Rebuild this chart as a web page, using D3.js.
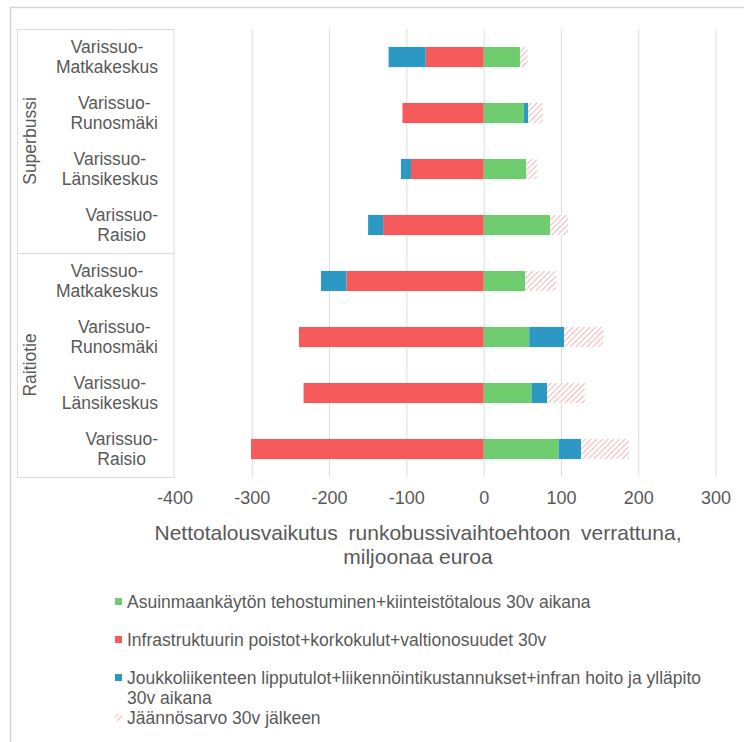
<!DOCTYPE html>
<html lang="fi">
<head>
<meta charset="utf-8">
<script src="https://cdn.jsdelivr.net/npm/d3@7"></script>
<style>
  html, body { margin: 0; padding: 0; background: #fff; }
  svg { display: block; font-family: "Liberation Sans", Arial, sans-serif; }
</style>
</head>
<body>
<svg id="chart" width="744" height="742"></svg>
<script>
// Vaihtoehdot: ryhmä (Superbussi / Raitiotie) ja reitti
const groupNames = ["Superbussi", "Raitiotie"];
const routeNames = ["Varissuo-Matkakeskus", "Varissuo-Runosmäki", "Varissuo-Länsikeskus", "Varissuo-Raisio"];

// Nettotalousvaikutus, milj. euroa (sama järjestys: 4 superbussia, 4 raitiotietä)
const maankaytto = [47, 52, 55, 86, 53.5, 59, 62, 97];
const infra = [-75, -105, -94, -130, -177.5, -239, -233, -301];
const joukkoliikenne = [-48, 5.5, -13, -19.5, -33, 45, 20, 29];
const jaannosarvo = [10, 19, 14, 23, 40.5, 51, 49, 62];

const xTicks = [-400, -300, -200, -100, 0, 100, 200, 300];

const seriesLabels = [
  ["Asuinmaankäytön tehostuminen+kiinteistötalous 30v aikana"],
  ["Infrastruktuurin poistot+korkokulut+valtionosuudet 30v"],
  ["Joukkoliikenteen lipputulot+liikennöintikustannukset+infran hoito ja ylläpito", "30v aikana"],
  ["Jäännösarvo 30v jälkeen"]
];
const axisTitle = ["Nettotalousvaikutus runkobussivaihtoehtoon verrattuna,", "miljoonaa euroa"];

// Taulukko pinottavaksi
const keys = ["maankaytto", "infra", "joukkoliikenne", "jaannosarvo"];
const rows = [];
groupNames.forEach((g, gi) => {
  routeNames.forEach((r, ri) => {
    const i = gi * routeNames.length + ri;
    rows.push({
      id: g + "|" + r, group: g, route: r,
      maankaytto: maankaytto[i], infra: infra[i],
      joukkoliikenne: joukkoliikenne[i], jaannosarvo: jaannosarvo[i]
    });
  });
});

const svg = d3.select("#chart");
const textColor = "#595959";
const lineColor = "#dcdcdc";

const plot = { left: 174.5, right: 715.5, top: 29, bottom: 477 };
const panelLeft = 17;

const x = d3.scaleLinear().domain([-400, 300]).range([plot.left, plot.right]);
const y = d3.scaleBand().domain(rows.map(d => d.id))
  .range([plot.top, plot.bottom]).paddingInner(0.64).paddingOuter(0.32);

// Hatch pattern for residual value
const defs = svg.append("defs");
const pat = defs.append("pattern").attr("id", "hatch")
  .attr("patternUnits", "userSpaceOnUse").attr("width", 4).attr("height", 4)
  .attr("patternTransform", "rotate(45)");
pat.append("rect").attr("width", 4).attr("height", 4).attr("fill", "#fff");
pat.append("line").attr("x1", 0).attr("y1", 0).attr("x2", 0).attr("y2", 4)
  .attr("stroke", "#f3a3a3").attr("stroke-width", 1.6);

const fills = {
  maankaytto: "#6fcd6f",
  infra: "#f65b5b",
  joukkoliikenne: "#2c98c4",
  jaannosarvo: "url(#hatch)"
};

// Outer frame (top and left edges visible)
svg.append("line").attr("x1", 10).attr("x2", 744).attr("y1", 7.5).attr("y2", 7.5)
  .attr("stroke", "#d6d6d6").attr("stroke-width", 1.5);
svg.append("line").attr("x1", 10.5).attr("x2", 10.5).attr("y1", 7).attr("y2", 742)
  .attr("stroke", "#d6d6d6").attr("stroke-width", 1.5);

// Vertical gridlines
const grid = svg.append("g")
  .attr("transform", `translate(0,${plot.bottom})`)
  .call(d3.axisBottom(x).tickValues(xTicks.filter(v => v > -400))
    .tickSize(-(plot.bottom - plot.top)).tickFormat(""));
grid.select(".domain").remove();
grid.selectAll("line").attr("stroke", lineColor).attr("stroke-width", 1);

// Category panel
const panel = svg.append("g").attr("stroke", lineColor).attr("stroke-width", 1).attr("fill", "none");
panel.append("rect").attr("x", panelLeft + 0.5).attr("y", plot.top + 0.5)
  .attr("width", plot.left - panelLeft - 1).attr("height", plot.bottom - plot.top);
const sepY = (y(rows[3].id) + y.bandwidth() + y(rows[4].id)) / 2;
panel.append("line").attr("x1", panelLeft).attr("x2", plot.left)
  .attr("y1", Math.round(sepY) + 0.5).attr("y2", Math.round(sepY) + 0.5);

// Stacked bars
const stack = d3.stack().keys(keys).offset(d3.stackOffsetDiverging);
const series = stack(rows);
svg.append("g").selectAll("g").data(series).join("g")
  .attr("fill", s => fills[s.key])
  .selectAll("rect").data(s => s).join("rect")
  .attr("x", d => x(Math.min(d[0], d[1])))
  .attr("width", d => Math.abs(x(d[1]) - x(d[0])))
  .attr("y", d => y(d.data.id))
  .attr("height", y.bandwidth());

// Category labels: two-line blocks, right aligned, lines centred within block
const catFont = 17.5;
const labels = svg.append("g").attr("fill", textColor).attr("font-size", catFont);
rows.forEach(d => {
  const parts = [d.route.split("-")[0] + "-", d.route.split("-")[1]];
  const cy = y(d.id) + y.bandwidth() / 2;
  const t = labels.append("text").attr("text-anchor", "middle");
  const spans = parts.map((p, i) => t.append("tspan").attr("y", cy - 4 + i * 20).text(p));
  const w = Math.max(...spans.map(s => s.node().getComputedTextLength()));
  const cx = 158 - w / 2;
  spans.forEach(s => s.attr("x", cx));
});

// Group labels (rotated)
groupNames.forEach((g, gi) => {
  const yTop = gi === 0 ? plot.top : sepY;
  const yBot = gi === 0 ? sepY : plot.bottom;
  const cy = (yTop + yBot) / 2;
  svg.append("text").attr("transform", `translate(36,${cy}) rotate(-90)`)
    .attr("text-anchor", "middle").attr("fill", textColor).attr("font-size", 17.5)
    .text(g);
});

// X axis tick labels
const xAxis = svg.append("g")
  .attr("transform", `translate(0,${plot.bottom})`)
  .call(d3.axisBottom(x).tickValues(xTicks).tickSize(0).tickPadding(14).tickFormat(d => String(d)));
xAxis.select(".domain").remove();
xAxis.selectAll("text").attr("fill", textColor).attr("font-size", 18)
  .attr("font-family", "Liberation Sans, Arial, sans-serif");

// Axis title; first line is justified to the full title width
const title = svg.append("text").attr("text-anchor", "middle").attr("fill", textColor)
  .attr("font-size", 21);
const titleSpans = axisTitle.map((line, i) =>
  title.append("tspan").attr("x", 418).attr("y", 540 + i * 24).text(line));
{
  const s = titleSpans[0];
  const w = s.node().getComputedTextLength();
  const gaps = axisTitle[0].split(" ").length - 1;
  const target = 527;
  if (w < target && gaps > 0) s.attr("word-spacing", (target - w) / gaps);
}

// Legend
const legend = svg.append("g").attr("font-size", 17.5).attr("fill", textColor);
const legendY = [602, 640, 678, 718];
keys.forEach((k, i) => {
  const g = legend.append("g");
  g.append("rect").attr("x", 115).attr("y", legendY[i] - 4).attr("width", 7).attr("height", 7)
    .attr("fill", fills[k]);
  const t = g.append("text").attr("x", 127).attr("y", legendY[i] + 6);
  seriesLabels[i].forEach((line, j) => {
    t.append("tspan").attr("x", 127).attr("dy", j === 0 ? 0 : 20).text(line);
  });
});
</script>
</body>
</html>
